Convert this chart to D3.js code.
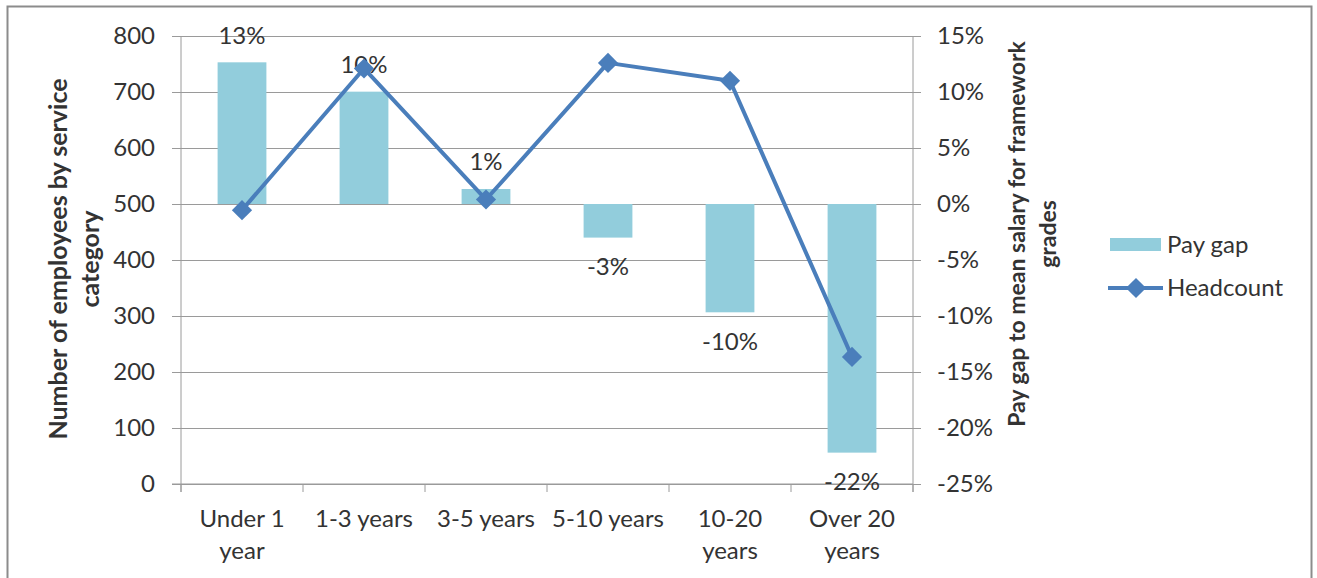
<!DOCTYPE html>
<html>
<head>
<meta charset="utf-8">
<script src="https://cdn.jsdelivr.net/npm/d3@7"></script>
<style>
  body { margin: 0; background: #fff; }
  text { font-family: Lato, "Open Sans", sans-serif; fill: #333; }
</style>
</head>
<body>
<svg id="chart" width="1317" height="578"></svg>
<script>
// data
var categories = ["Under 1 year", "1-3 years", "3-5 years", "5-10 years", "10-20 years", "Over 20 years"];
var tickLabels = ["Under 1\nyear", "1-3 years", "3-5 years", "5-10 years", "10-20\nyears", "Over 20\nyears"];
var payGap = [0.1265, 0.1003, 0.0134, -0.030, -0.0967, -0.222];
var payGapLabels = ["13%", "10%", "1%", "-3%", "-10%", "-22%"];
var headcount = [489, 742, 508, 752, 720, 227];
var leftTicks = [0, 100, 200, 300, 400, 500, 600, 700, 800];
var rightTicks = [-0.25, -0.20, -0.15, -0.10, -0.05, 0, 0.05, 0.10, 0.15];

var svg = d3.select('#chart');
var barColor = '#92cddc', lineColor = '#4a7ebb', gridColor = '#9a9a9a';
var pLeft = 181, pRight = 913, pTop = 36, pBottom = 484;
var fs = 24;

// frame
svg.append('rect')
  .attr('x', 7.5).attr('y', 6.5).attr('width', 1304).attr('height', 600)
  .attr('fill', 'none').attr('stroke', '#8c8c8c').attr('stroke-width', 2);

var x = d3.scaleBand().domain(categories).range([pLeft, pRight])
  .paddingInner(0.6).paddingOuter(0.3);
var yL = d3.scaleLinear().domain([0, 800]).range([pBottom, pTop]);
var yR = d3.scaleLinear().domain([-0.25, 0.15]).range([pBottom, pTop]);

// gridlines + left axis
var gL = svg.append('g').attr('transform', 'translate(' + pLeft + ',0)')
  .call(d3.axisLeft(yL).tickValues(leftTicks).tickSize(-(pRight - pLeft)).tickPadding(26));
gL.select('.domain').remove();
gL.selectAll('.tick line').attr('stroke', gridColor).attr('x1', -9);
gL.selectAll('.tick text').attr('font-size', fs).style('fill', '#333');

// right axis
var gR = svg.append('g').attr('transform', 'translate(' + pRight + ',0)')
  .call(d3.axisRight(yR).tickValues(rightTicks).tickSize(8).tickPadding(16)
    .tickFormat(d3.format('.0%')));
gR.select('.domain').attr('stroke', gridColor).attr('d', 'M0,' + pTop + 'V' + (pBottom + 8));
gR.selectAll('.tick line').attr('stroke', gridColor);
gR.selectAll('.tick text').attr('font-size', fs).attr('x', 24).attr('text-anchor', 'start')
  .style('fill', '#333')
  .text(function (d) { return d3.format('.0%')(d).replace('−', '-'); });

// vertical left axis line
svg.append('line').attr('x1', pLeft).attr('x2', pLeft).attr('y1', pTop).attr('y2', pBottom + 8)
  .attr('stroke', gridColor);

// category axis
var step = x.step(), offs = (step - x.bandwidth()) / 2;
var bounds = categories.map(function (c) { return x(c) - offs; }).concat([pRight]);
svg.append('g').selectAll('line').data(bounds).join('line')
  .attr('x1', function (d) { return d; }).attr('x2', function (d) { return d; })
  .attr('y1', pBottom).attr('y2', pBottom + 8).attr('stroke', gridColor);
svg.append('line').attr('x1', pLeft - 9).attr('x2', pRight).attr('y1', pBottom).attr('y2', pBottom)
  .attr('stroke', gridColor);

svg.append('g').selectAll('text').data(categories).join('text')
  .attr('x', function (d) { return x(d) + x.bandwidth() / 2; })
  .attr('y', 527)
  .attr('text-anchor', 'middle').attr('font-size', fs)
  .each(function (d, i) {
    var lines = tickLabels[i].split('\n');
    d3.select(this).selectAll('tspan').data(lines).join('tspan')
      .attr('x', x(d) + x.bandwidth() / 2)
      .attr('dy', function (l, j) { return j ? 32 : 0; })
      .text(function (l) { return l; });
  });

// bars
svg.append('g').selectAll('rect').data(payGap).join('rect')
  .attr('x', function (d, i) { return x(categories[i]); })
  .attr('width', x.bandwidth())
  .attr('y', function (d) { return yR(Math.max(0, d)); })
  .attr('height', function (d) { return Math.abs(yR(d) - yR(0)); })
  .attr('fill', barColor);

// bar labels
svg.append('g').selectAll('text').data(payGap).join('text')
  .attr('x', function (d, i) { return x(categories[i]) + x.bandwidth() / 2; })
  .attr('y', function (d) { return d >= 0 ? yR(d) - 27 : yR(d) + 29; })
  .attr('dy', '0.35em')
  .attr('text-anchor', 'middle').attr('font-size', fs)
  .text(function (d, i) { return payGapLabels[i]; });

// headcount line
var line = d3.line()
  .x(function (d, i) { return x(categories[i]) + x.bandwidth() / 2; })
  .y(function (d) { return yL(d); });
svg.append('path').datum(headcount).attr('d', line)
  .attr('fill', 'none').attr('stroke', lineColor).attr('stroke-width', 4).attr('stroke-linejoin', 'round');
var diamond = d3.symbol().type(d3.symbolDiamond2).size(260);
svg.append('g').selectAll('path').data(headcount).join('path')
  .attr('d', diamond)
  .attr('transform', function (d, i) {
    return 'translate(' + (x(categories[i]) + x.bandwidth() / 2) + ',' + yL(d) + ')';
  })
  .attr('fill', lineColor);

// axis titles
svg.append('text')
  .attr('transform', 'translate(58,259) rotate(-90)')
  .attr('text-anchor', 'middle').attr('font-size', 25).attr('font-weight', 'bold')
  .selectAll('tspan').data(['Number of employees by service', 'category']).join('tspan')
  .attr('x', 0).attr('y', function (d, i) { return i * 32; }).attr('dy', '0.35em')
  .text(function (d) { return d; });

svg.append('text')
  .attr('transform', 'translate(1017,234) rotate(-90)')
  .attr('text-anchor', 'middle').attr('font-size', 23).attr('font-weight', 'bold')
  .selectAll('tspan').data(['Pay gap to mean salary for framework', 'grades']).join('tspan')
  .attr('x', 0).attr('y', function (d, i) { return i * 31; }).attr('dy', '0.35em')
  .text(function (d) { return d; });

// legend
var lg = svg.append('g');
lg.append('rect').attr('x', 1110).attr('y', 238).attr('width', 51).attr('height', 13).attr('fill', barColor);
lg.append('text').attr('x', 1167).attr('y', 245).attr('dy', '0.35em').attr('font-size', fs).text('Pay gap');
lg.append('line').attr('x1', 1108).attr('x2', 1163).attr('y1', 288).attr('y2', 288)
  .attr('stroke', lineColor).attr('stroke-width', 4);
lg.append('path').attr('d', diamond).attr('transform', 'translate(1136,288)').attr('fill', lineColor);
lg.append('text').attr('x', 1167).attr('y', 288).attr('dy', '0.35em').attr('font-size', fs).text('Headcount');
</script>
</body>
</html>
